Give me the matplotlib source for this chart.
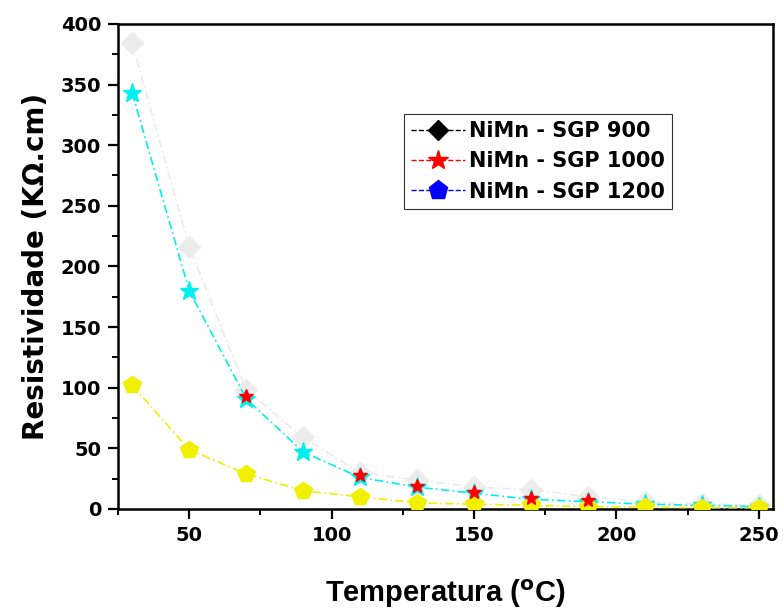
import matplotlib
matplotlib.use("Agg")
import matplotlib.pyplot as plt
from matplotlib.lines import Line2D
from matplotlib.ticker import MultipleLocator

plt.rcParams['font.family'] = ['DejaVu Sans']
plt.rcParams['font.weight'] = 'bold'

temperature = [30, 50, 70, 90, 110, 130, 150, 170, 190, 210, 230, 250]
sgp900 = [384, 216, 98, 59, 30, 24, 18, 16, 10, 6, 4, 3]
sgp1000 = [343, 180, 91, 47, 26, 18, 13, 8, 6, 4, 3, 2]
sgp1000_overlay_t = [70, 110, 130, 150, 170, 190]
sgp1000_overlay = [93, 28, 19, 14, 9, 7]
sgp1200 = [102, 49, 29, 15, 10, 5, 4, 3, 2, 1.5, 1, 1]
labels = ["NiMn - SGP 900", "NiMn - SGP 1000", "NiMn - SGP 1200"]

fig = plt.figure(figsize=(7.84, 6.13), dpi=100)
ax = fig.add_axes([0.1505, 0.1697, 0.8355, 0.7913])

ls = (0, (5, 2, 1, 2))
ax.plot(temperature, sgp900, color='#ececec', linestyle=ls, lw=1.2,
        marker='D', markersize=11, markeredgecolor='#ececec', zorder=2)
ax.plot(temperature, sgp1000, color='#00f0f0', linestyle=ls, lw=1.2,
        marker='*', markersize=14, markeredgecolor='#00f0f0', zorder=3)
ax.plot(sgp1000_overlay_t, sgp1000_overlay, color='red', linestyle='none',
        marker='*', markersize=10, zorder=4)
ax.plot(temperature, sgp1200, color='#f0f000', linestyle=ls, lw=1.2,
        marker='p', markersize=13, markeredgecolor='#f0f000', zorder=3)

ax.set_xlim(25, 255)
ax.set_ylim(0, 400)
ax.xaxis.set_major_locator(MultipleLocator(50))
ax.xaxis.set_minor_locator(MultipleLocator(25))
ax.yaxis.set_major_locator(MultipleLocator(50))
ax.yaxis.set_minor_locator(MultipleLocator(25))
ax.tick_params(which='major', direction='out', length=7, width=1.6, labelsize=14, pad=5)
ax.tick_params(which='minor', direction='out', length=4, width=1.4)
for s in ax.spines.values():
    s.set_linewidth(1.8)

for lab in ax.get_xticklabels() + ax.get_yticklabels():
    lab.set_fontweight('bold')

ax.set_xlabel("Temperatura ($^{\\mathbf{o}}$C)", fontsize=21, fontweight='bold', labelpad=24,
              family=['Liberation Sans', 'DejaVu Sans'])
ax.set_ylabel("Resistividade (KΩ.cm)", fontsize=20, fontweight='bold', labelpad=8)

handles = [
    Line2D([0], [0], color='black', linestyle='--', lw=1, marker='D', markersize=10),
    Line2D([0], [0], color='red', linestyle='--', lw=1, marker='*', markersize=15),
    Line2D([0], [0], color='blue', linestyle='--', lw=1, marker='p', markersize=14),
]
leg = ax.legend(handles, labels, loc='upper left', bbox_to_anchor=(0.436, 0.815),
                frameon=True, fancybox=False, edgecolor='black',
                prop={'weight': 'bold', 'size': 15}, handlelength=2.6,
                labelspacing=0.5, borderpad=0.35, handletextpad=0.2,
                borderaxespad=0.0)
leg.get_frame().set_linewidth(0.8)

fig.savefig("out.png", dpi=100)
